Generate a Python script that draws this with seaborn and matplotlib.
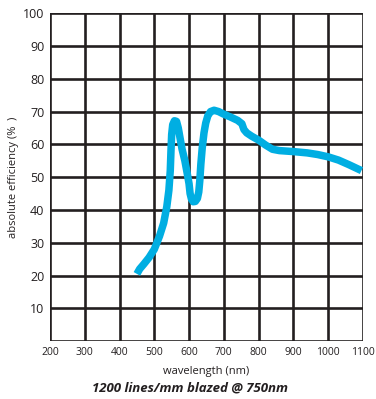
import matplotlib
matplotlib.use("Agg")
import matplotlib.pyplot as plt
import seaborn as sns
import pandas as pd

# =========================
# DATA
# =========================
wavelength = [450, 458, 470, 485, 500, 515, 527, 536, 542, 546, 548, 550,
              553, 558, 564, 569, 574, 580, 588, 595, 600, 603, 607, 612,
              618, 624, 628, 631, 634, 638, 643, 648, 654, 662, 672, 685,
              700, 720, 740, 752, 758, 766, 780, 800, 820, 840, 860, 900,
              940, 970, 1000, 1030, 1060, 1096]
efficiency = [20.5, 22.0, 23.5, 25.5, 28.0, 32.0, 36.0, 41.0, 46.0, 52.0, 58.0, 63.0,
              66.0, 67.2, 67.0, 65.0, 62.0, 58.5, 55.0, 51.0, 48.0, 45.0, 43.3, 42.5,
              42.6, 43.5, 45.5, 49.0, 54.0, 59.0, 63.5, 66.5, 68.7, 70.0, 70.4, 70.0,
              69.2, 68.3, 67.3, 66.3, 64.5, 63.5, 62.5, 61.3, 59.8, 58.5, 58.1, 57.8,
              57.4, 56.9, 56.2, 55.2, 53.8, 52.0]

x_ticks = [200, 300, 400, 500, 600, 700, 800, 900, 1000, 1100]
y_ticks = [10, 20, 30, 40, 50, 60, 70, 80, 90, 100]

df = pd.DataFrame({"wavelength": wavelength, "efficiency": efficiency})

# =========================
# STYLE
# =========================
sns.set_style("white")
plt.rcParams["font.family"] = ["Open Sans", "DejaVu Sans"]

fig = plt.figure(figsize=(3.76, 3.99), dpi=100)
ax = fig.add_axes([0.133, 0.145, 0.832, 0.822])

grid_col = "#231f20"
for x in x_ticks:
    ax.axvline(x, color=grid_col, lw=1.9, zorder=1)
for y in [0] + y_ticks:
    ax.axhline(y, color=grid_col, lw=1.9, zorder=1)

sns.lineplot(data=df, x="wavelength", y="efficiency", ax=ax, sort=False,
             color="#00aee2", lw=5.4, zorder=3)
ax.lines[-1].set_solid_joinstyle("round")
ax.lines[-1].set_solid_capstyle("butt")

ax.set_xlim(200, 1100)
ax.set_ylim(0, 100)
ax.set_xticks(x_ticks)
ax.set_yticks(y_ticks)
ax.set_xticklabels([str(v) for v in x_ticks], fontsize=7.5, color="#231f20")
ax.set_yticklabels([str(v) for v in y_ticks], fontsize=9, color="#231f20")
ax.tick_params(length=0, pad=4)
for s in ax.spines.values():
    s.set_visible(False)

ax.set_xlabel("wavelength (nm)", fontsize=8, color="#231f20", labelpad=6)
ax.set_ylabel("absolute efficiency (%  )", fontsize=8, color="#231f20", labelpad=3)

fig.text(0.505, 0.028, "1200 lines/mm blazed @ 750nm", ha="center", va="center",
         fontsize=9.5, fontweight="bold", fontstyle="italic", color="#231f20")

fig.savefig("out.png", dpi=100)
